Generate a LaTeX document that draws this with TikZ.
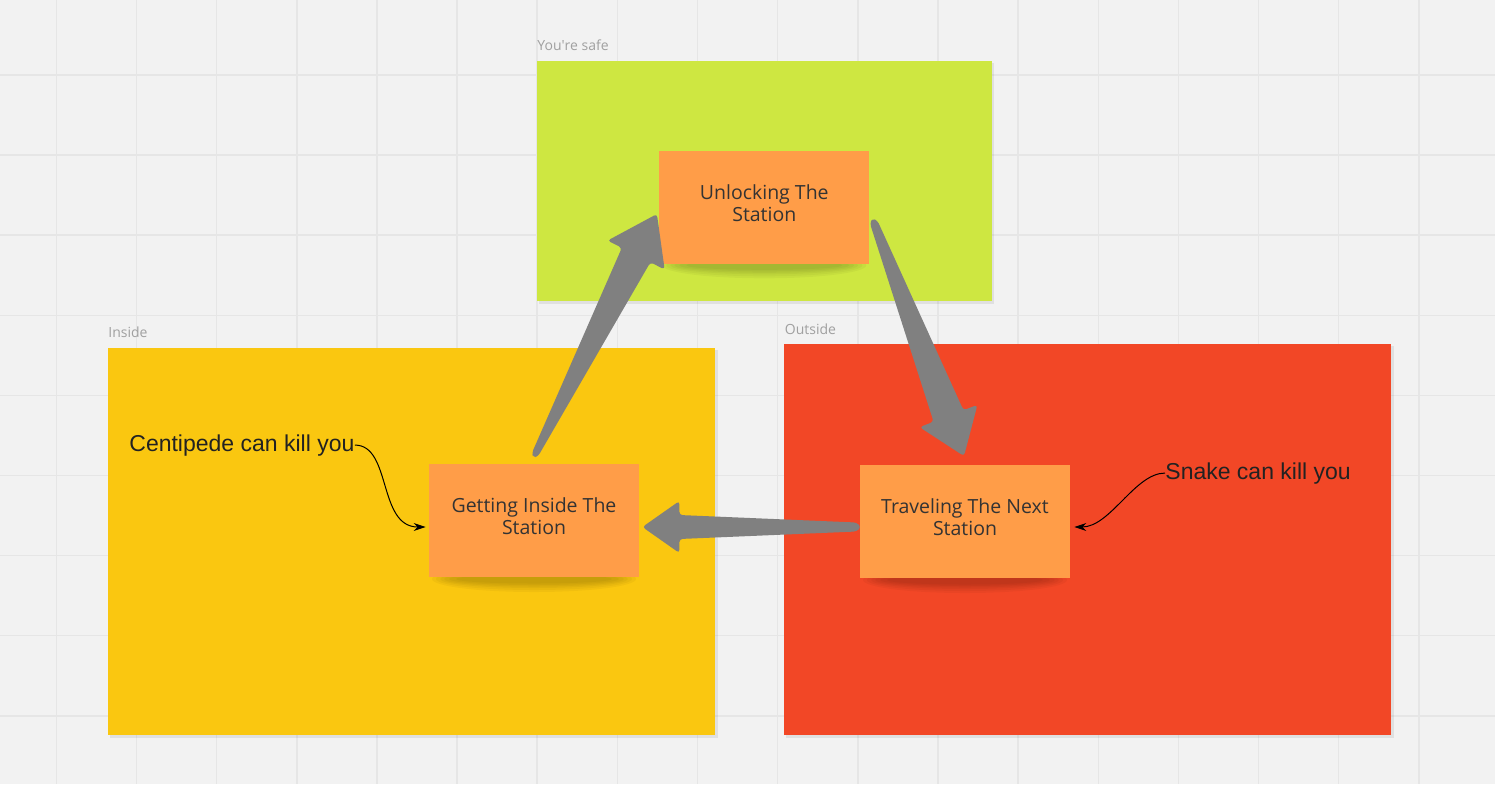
\documentclass[tikz,border=0pt]{standalone}
\usepackage{fontspec}
\setmainfont{Open Sans}
\newfontfamily\callfont{Liberation Sans}
\usetikzlibrary{calc,arrows.meta}
\definecolor{bgc}{HTML}{F2F2F2}
\definecolor{gridc}{HTML}{E6E6E6}
\definecolor{safec}{HTML}{CEE741}
\definecolor{insidec}{HTML}{FAC710}
\definecolor{outsidec}{HTML}{F24726}
\definecolor{notec}{HTML}{FF9D48}
\definecolor{arrowgray}{HTML}{808080}
\definecolor{txtc}{HTML}{333333}
\definecolor{lblc}{HTML}{A0A0A0}
\definecolor{callc}{HTML}{222222}
% #1 tail, #2 tip, #3 tail half width, #4 neck half width, #5 head length, #6 head half width
\newcommand\fatarrow[6]{%
  \fill[arrowgray, rounded corners=1.6pt]
    ($(#1)!#3!90:(#2)$) --
    ($(#2)!#5!(#1)!#4!-90:(#1)$) --
    ($(#2)!#5!(#1)!#6!-90:(#1)$) --
    (#2) --
    ($(#2)!#5!(#1)!#6!90:(#1)$) --
    ($(#2)!#5!(#1)!#4!90:(#1)$) --
    ($(#1)!#3!-90:(#2)$) --
    ($(#1)!#3!180:(#2)$) -- cycle;}
\tikzset{
  region/.style={fill=#1, draw=none},
  regionshadow/.style={fill=black, opacity=0.07, draw=none},
  note/.style={fill=notec, draw=none, align=center, text=txtc,
    minimum width=105pt, minimum height=56.5pt, inner sep=0pt,
    text depth=4.2pt,
    font=\fontsize{9.75}{11.15}\selectfont},
  lbl/.style={text=lblc, inner sep=0pt, anchor=base west,
    font=\fontsize{7}{8}\selectfont},
  callout/.style={text=callc, inner sep=0pt, anchor=base west,
    font=\callfont\fontsize{11.5}{13}\selectfont},
  thinarrow/.style={draw=black, line width=0.5pt,
    -{Stealth[length=6pt,width=4pt]}},
  notesh/.style={fill=black, opacity=0.035, draw=none},
  gridline/.style={draw=gridc, line width=0.75pt}
}
\begin{document}
\begin{tikzpicture}[x=0.5pt, y=-0.5pt]
\useasboundingbox (0,0) rectangle (1495,784);
\fill[bgc] (0,0) rectangle (1495,784);
\foreach \i in {0,...,18} \draw[gridline] ({56.3+80.15*\i},0) -- ++(0,784);
\foreach \j in {0,...,8} \draw[gridline] (0,{75+80.1*\j}) -- ++(1495,0);

% region shadows
\fill[regionshadow] (538.5,63) rectangle (994,303.5);
\fill[regionshadow] (109.5,350) rectangle (717.5,737.5);
\fill[regionshadow] (786,346) rectangle (1393.5,737.5);
% regions
\fill[region=safec] (536.7,61) rectangle (992,300.5);
\fill[region=insidec] (108,347.7) rectangle (715,734.5);
\fill[region=outsidec] (784.4,344) rectangle (1391.3,734.7);

% region labels
\node[lbl] (lsafe) at (537,50.7) {You\textquotesingle re safe};
\node[lbl] (linside) at (108,337) {Inside};
\node[lbl] (loutside) at (784.5,334) {Outside};

% sticky note shadows (soft, layered)
\foreach \cx/\cy in {764.3/263.3, 534/577, 965/578}{
  \foreach \rx/\ry in {102/13, 98/11, 94/9, 90/7.5, 85/6, 78/4.5}{
    \fill[notesh] (\cx,\cy+2) ellipse [x radius=\rx, y radius=\ry];
  }
}

% sticky notes
\node[note] (unl) at (764.3,207) {Unlocking The\\Station};
\node[note] (gis) at (534,520.5) {Getting Inside The\\Station};
\node[note] (trv) at (965,521) {Traveling The Next\\Station};

% fat arrows
\coordinate (a1t) at ($(gis.north)+(1,-9)$);
\coordinate (a1h) at ($(unl.west)+(-2,7)$);
\fatarrow{a1t}{a1h}{1.75pt}{8pt}{23pt}{16pt}
\coordinate (a2t) at ($(unl.east)+(4,15)$);
\coordinate (a2h) at ($(trv.north)+(-1,-8)$);
\fatarrow{a2t}{a2h}{2pt}{8pt}{21.5pt}{15.5pt}
\coordinate (a3t) at ($(trv.west)+(-3,6)$);
\coordinate (a3h) at ($(gis.east)+(3,6.5)$);
\fatarrow{a3t}{a3h}{2.25pt}{6pt}{18.5pt}{13pt}

% callouts
\node[callout] (centi) at (129,451) {Centipede can kill you};
\node[callout] (snake) at (1165,479) {Snake can kill you};
\draw[thinarrow] (centi.east) .. controls +(37,0) and +(-48,0) .. ($(gis.west)+(-3,6.5)$);
\draw[thinarrow] (snake.west) .. controls +(-30,0) and +(36,0) .. ($(trv.east)+(4,6)$);
\end{tikzpicture}
\end{document}
